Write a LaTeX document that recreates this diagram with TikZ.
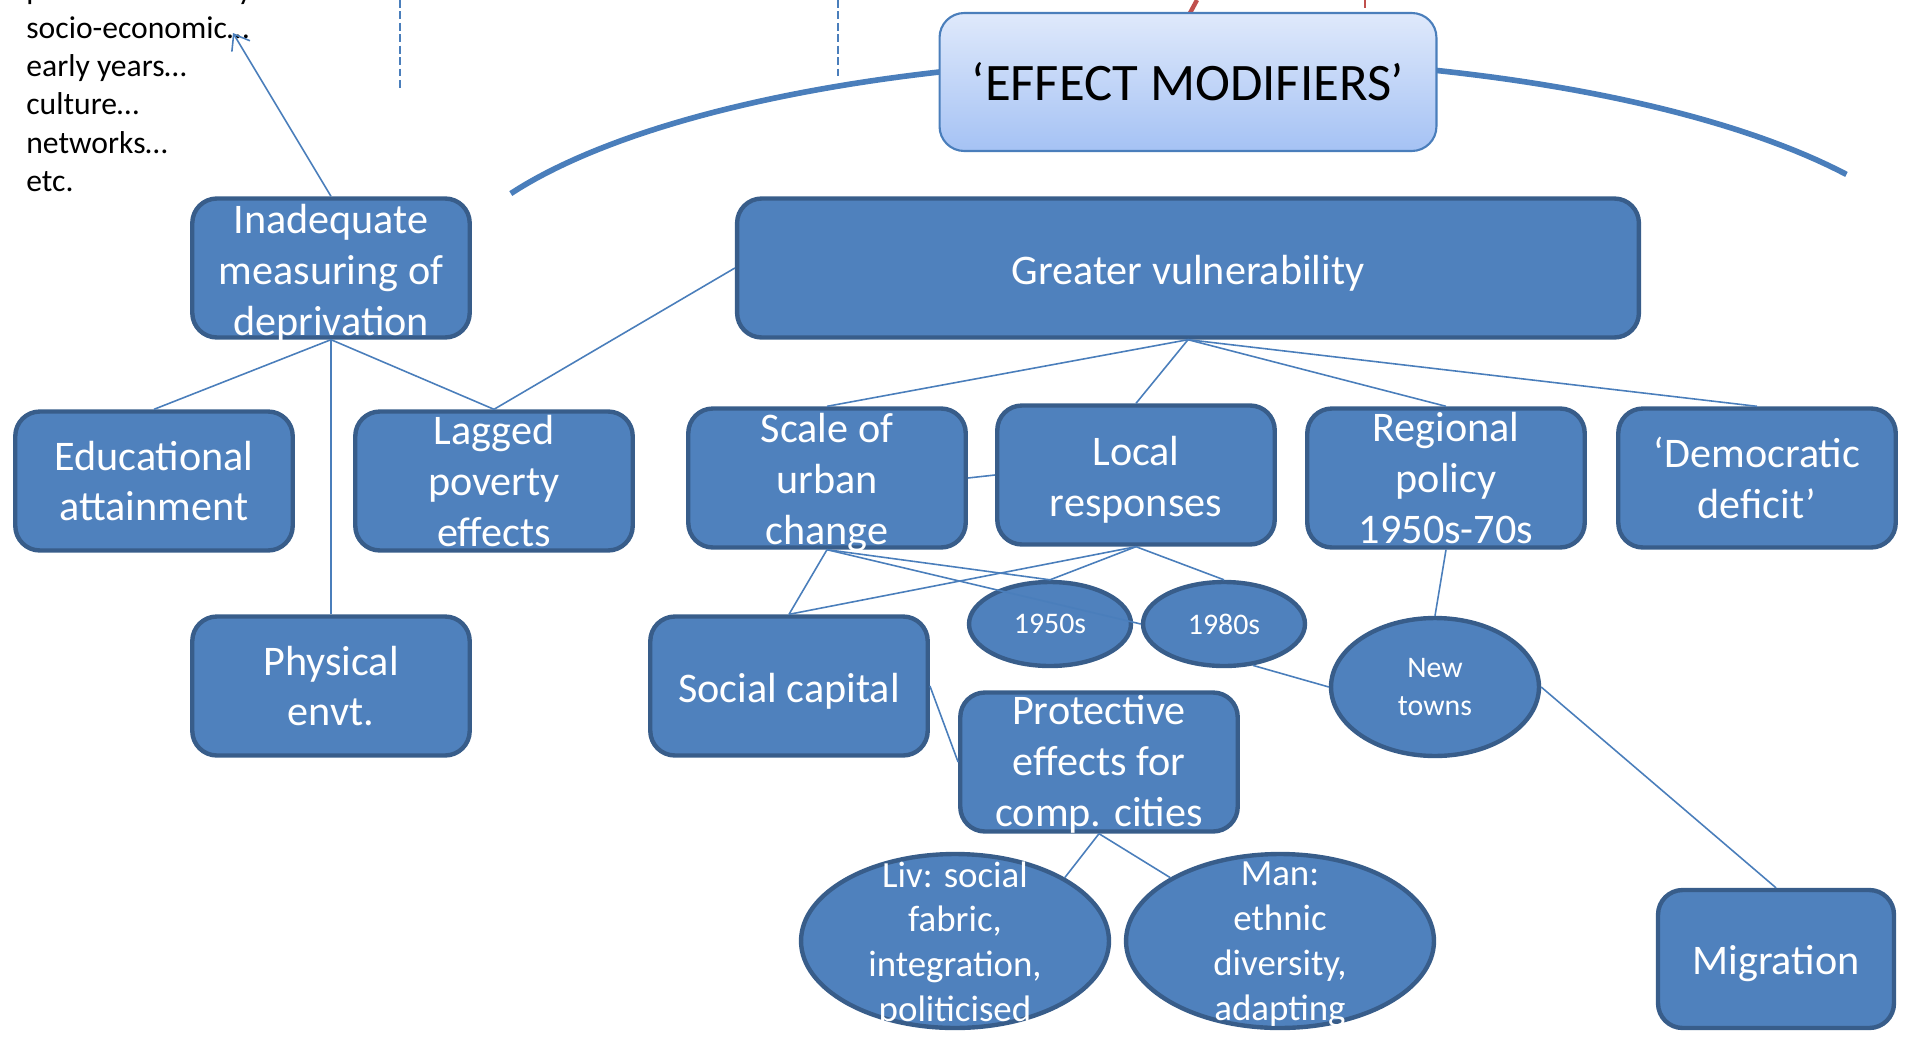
\documentclass[tikz,border=0pt]{standalone}
\usepackage{fontspec}
\setmainfont{Carlito}
\usetikzlibrary{arrows.meta,shapes.geometric}

\definecolor{boxfill}{HTML}{4F81BD}
\definecolor{boxline}{HTML}{385D8A}
\definecolor{linkblue}{HTML}{4A7EBB}
\definecolor{emtop}{HTML}{DFE9FB}
\definecolor{embot}{HTML}{A5C2F4}
\definecolor{linkred}{HTML}{C0504D}

\begin{document}
\begin{tikzpicture}[x=0.02cm,y=-0.02cm,
    box/.style={draw=boxline,fill=boxfill,line width=2.5pt,rounded corners=14pt,
      minimum width=5.55cm,minimum height=2.78cm,inner sep=0pt},
    oval/.style={ellipse,draw=boxline,fill=boxfill,line width=2.5pt,inner sep=0pt},
    boxtext/.style={text=white,align=center,inner sep=0pt,font=\fontsize{24}{29}\selectfont},
    lowtext/.style={boxtext,yshift=-2.8pt},
    ovaltext/.style={text=white,align=center,inner sep=0pt,font=\fontsize{17}{22}\selectfont},
    bigovaltext/.style={ovaltext,yshift=-2pt,font=\fontsize{21}{25.5}\selectfont},
    link/.style={linkblue,line width=0.9pt}]
		\useasboundingbox (0,0) rectangle (1910,1041);
		\clip (0,0) rectangle (1910,1041);
		
		% list of factors, top left
		\node[anchor=south west,inner sep=0pt,align=left,font=\fontsize{18}{21.8}\selectfont] (factors) at (26,192)
		{political economy…\\socio-economic…\\early years…\\culture…\\networks…\\etc.};
		
		% fragments of the rest of the slide
		\coordinate (dashA) at (400,0); \coordinate (dashAend) at (400,91);
		\coordinate (dashB) at (838,0); \coordinate (dashBend) at (838,77);
		\coordinate (redA) at (1197,0); \coordinate (redAend) at (1190,13);
		\coordinate (redB) at (1365,0); \coordinate (redBend) at (1365,8);
		\draw[linkblue,line width=1pt,dash pattern=on 4.5pt off 2pt] (dashA) -- (dashAend);
		\draw[linkblue,line width=1pt,dash pattern=on 4.5pt off 2pt] (dashB) -- (dashBend);
		\draw[linkred,line width=2.5pt] (redA) -- (redAend);
		\draw[linkred,line width=0.8pt] (redB) -- (redBend);
		
		% arc behind the header
		\draw[linkblue,line width=3.2pt] plot[domain=-154.2:-31,samples=90]
		({1195+760*cos(\x)},{298+240*sin(\x)});
		
		% header
		\node[draw=linkblue,line width=1.2pt,rounded corners=14pt,top color=emtop,bottom color=embot,
		minimum width=9.94cm,minimum height=2.76cm,inner sep=0pt,font=\fontsize{30}{36}\selectfont]
		(effect) at (1188,82) {‘EFFECT MODIFIERS’};
		
		% boxes
		\node[box,minimum width=18.04cm] (vuln) at (1188,268) {};
		\node[box] (inad) at (331,268) {};
		\node[box] (edu) at (154,481) {};
		\node[box] (lag) at (494,481) {};
		\node[box] (phys) at (331,686) {};
		\node[box] (scale) at (827,478) {};
		\node[box] (local) at (1136,475) {};
		\node[box] (regional) at (1446,478) {};
		\node[box] (demo) at (1757,478) {};
		\node[box] (social) at (789,686) {};
		\node[box] (prot) at (1099,762) {};
		\node[box,minimum width=4.72cm,minimum height=2.76cm] (migr) at (1776,959) {};
		
		% ovals
		\node[oval,minimum width=3.24cm,minimum height=1.68cm] (fifties) at (1050,624) {};
		\node[oval,minimum width=3.24cm,minimum height=1.68cm] (eighties) at (1224,624) {};
		\node[oval,minimum width=4.16cm,minimum height=2.76cm] (newtowns) at (1435,687) {};
		\node[oval,minimum width=6.16cm,minimum height=3.48cm] (liv) at (955,941) {};
		\node[oval,minimum width=6.16cm,minimum height=3.48cm] (man) at (1280,941) {};
		
		% links
		\coordinate (listtip) at (233,33);
		\draw[link,-{Straight Barb[length=8pt,width=12pt]}] (inad.north) -- (listtip);
		\draw[link] (inad.south) -- (edu.north);
		\draw[link] (inad.south) -- (lag.north);
		\draw[link] (inad.south) -- (phys.north);
		\draw[link] (vuln.west) -- (lag.north);
		\draw[link] (vuln.south) -- (scale.north);
		\draw[link] (vuln.south) -- (local.north);
		\draw[link] (vuln.south) -- (regional.north);
		\draw[link] (vuln.south) -- (demo.north);
		\draw[link] (scale.east) -- (local.west);
		\draw[link] (scale.south) -- (social.north);
		\draw[link] (scale.south) -- (fifties.north);
		\draw[link] (scale.south) -- (eighties.west);
		\draw[link] (local.south) -- (fifties.north);
		\draw[link] (local.south) -- (social.north);
		\draw[link] (local.south) -- (eighties.north);
		\draw[link] (eighties.-55) -- (newtowns.west);
		\draw[link] (regional.south) -- (newtowns.north);
		\draw[link] (newtowns.east) -- (migr.north);
		\draw[link] (social.east) -- (prot.west);
		\draw[link] (prot.south) -- (liv.30);
		\draw[link] (prot.south) -- (man.150);
		
		% texts
		\node[lowtext] (vuln-t) at (vuln) {Greater vulnerability};
		\node[lowtext] (inad-t) at (inad) {Inadequate\\measuring of\\deprivation};
		\node[boxtext] (edu-t) at (edu) {Educational\\attainment};
		\node[boxtext] (lag-t) at (lag) {Lagged\\poverty\\effects};
		\node[boxtext] (phys-t) at (phys) {Physical\\envt.};
		\node[lowtext] (scale-t) at (scale) {Scale of\\urban\\change};
		\node[lowtext] (local-t) at (local) {Local\\responses};
		\node[boxtext] (regional-t) at (regional) {Regional\\policy\\1950s-70s};
		\node[boxtext] (demo-t) at (demo) {‘Democratic\\deficit’};
		\node[lowtext] (social-t) at (social) {Social capital};
		\node[boxtext,yshift=-1.4pt] (prot-t) at (prot) {Protective\\effects for\\comp. cities};
		\node[lowtext] (migr-t) at (migr) {Migration};
		\node[ovaltext] (fifties-t) at (fifties) {1950s};
		\node[ovaltext] (eighties-t) at (eighties) {1980s};
		\node[ovaltext] (newtowns-t) at (newtowns) {New\\towns};
		\node[bigovaltext] (liv-t) at (liv) {Liv: social\\fabric,\\integration,\\politicised};
		\node[bigovaltext] (man-t) at (man) {Man:\\ethnic\\diversity,\\adapting};
	\end{tikzpicture}
\end{document}
